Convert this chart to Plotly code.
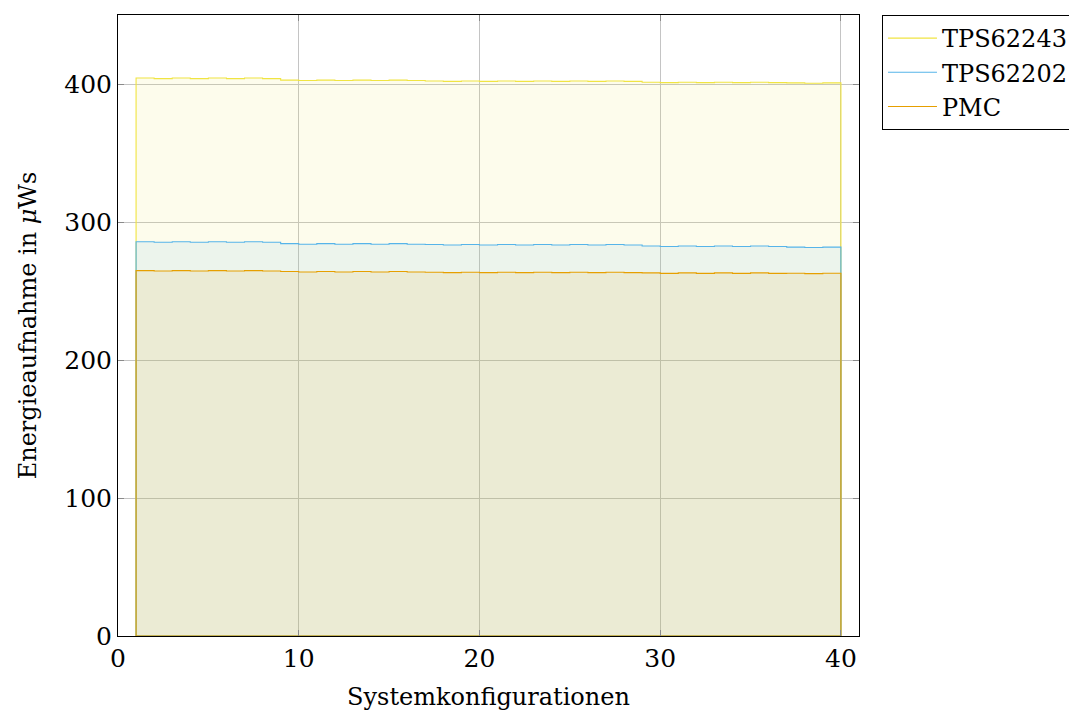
import plotly.graph_objects as go

# Energieaufnahme pro Systemkonfiguration (1..40) in µWs
konfigurationen = list(range(1, 41))

tps62243 = [404.3, 403.9, 404.3, 403.9, 404.3, 403.9, 404.3, 403.9,
            402.8, 402.5, 402.8, 402.5, 402.8, 402.5, 402.8, 402.5,
            402.2, 401.9, 402.2, 401.9, 402.2, 401.9, 402.2, 401.9, 402.2, 401.9, 402.2, 401.9,
            401.3, 401.0, 401.3, 401.0, 401.3, 401.0, 401.3, 401.0,
            400.8, 400.5, 400.8, 400.5]

tps62202 = [285.7, 285.3, 285.7, 285.3, 285.7, 285.3, 285.7, 285.3,
            284.3, 283.9, 284.3, 283.9, 284.3, 283.9, 284.3, 283.9,
            283.7, 283.3, 283.7, 283.3, 283.7, 283.3, 283.7, 283.3, 283.7, 283.3, 283.7, 283.3,
            282.6, 282.3, 282.6, 282.3, 282.6, 282.3, 282.6, 282.3,
            281.8, 281.5, 281.8, 281.6]

pmc = [264.8, 264.5, 264.8, 264.5, 264.8, 264.5, 264.8, 264.5,
       264.1, 263.8, 264.1, 263.8, 264.1, 263.8, 264.1, 263.8,
       263.6, 263.3, 263.6, 263.3, 263.6, 263.3, 263.6, 263.3, 263.6, 263.3, 263.6, 263.3,
       263.1, 262.8, 263.1, 262.8, 263.1, 262.8, 263.1, 262.8,
       262.9, 262.6, 262.9, 262.8]

serien = [
    ("TPS62243", tps62243, "240,228,66"),
    ("TPS62202", tps62202, "86,180,233"),
    ("PMC", pmc, "230,159,0"),
]

FONT = "DejaVu Serif"

fig = go.Figure()

for name, werte, rgb in serien:
    # geschlossene Fläche: von der Nulllinie hoch, Treppenkurve, zurück zur Nulllinie
    xs = [konfigurationen[0]] + konfigurationen + [konfigurationen[-1], konfigurationen[0]]
    ys = [0] + werte + [0, 0]
    fig.add_trace(go.Scatter(
        x=xs, y=ys, mode="lines", line=dict(width=0, shape="hv"),
        fill="toself", fillcolor=f"rgba({rgb},0.1)",
        showlegend=False, hoverinfo="skip"))
    fig.add_trace(go.Scatter(
        x=xs, y=ys, mode="lines", name=name,
        line=dict(color=f"rgb({rgb})", width=1.1, shape="hv")))

achse = dict(
    showline=True, linecolor="black", linewidth=1, mirror="ticks",
    ticks="inside", ticklen=6, tickwidth=1.3, tickcolor="#8a8a8a",
    showgrid=True, gridcolor="#c4c4c4", gridwidth=1,
    zeroline=False, automargin=False,
    tickfont=dict(family=FONT, size=25, color="black"),
)

fig.update_xaxes(achse, range=[0, 41], tickvals=[0, 10, 20, 30, 40],
                 title=dict(text="Systemkonfigurationen", standoff=16,
                            font=dict(family=FONT, size=24, color="black")))
fig.update_yaxes(achse, range=[0, 450], tickvals=[0, 100, 200, 300, 400],
                 title=dict(text="Energieaufnahme in <i>μ</i>Ws", standoff=20,
                            font=dict(family=FONT, size=24, color="black")))

fig.update_layout(
    width=1069, height=714,
    margin=dict(l=118, r=210, t=15, b=78, autoexpand=False),
    paper_bgcolor="white", plot_bgcolor="white",
    font=dict(family=FONT, color="black"),
    legend=dict(x=1.031, y=1.0, xanchor="left", yanchor="top",
                bordercolor="black", borderwidth=1, bgcolor="white",
                font=dict(family=FONT, size=24, color="black"),
                tracegroupgap=0, itemwidth=49),
)

fig.write_html("out.html")
